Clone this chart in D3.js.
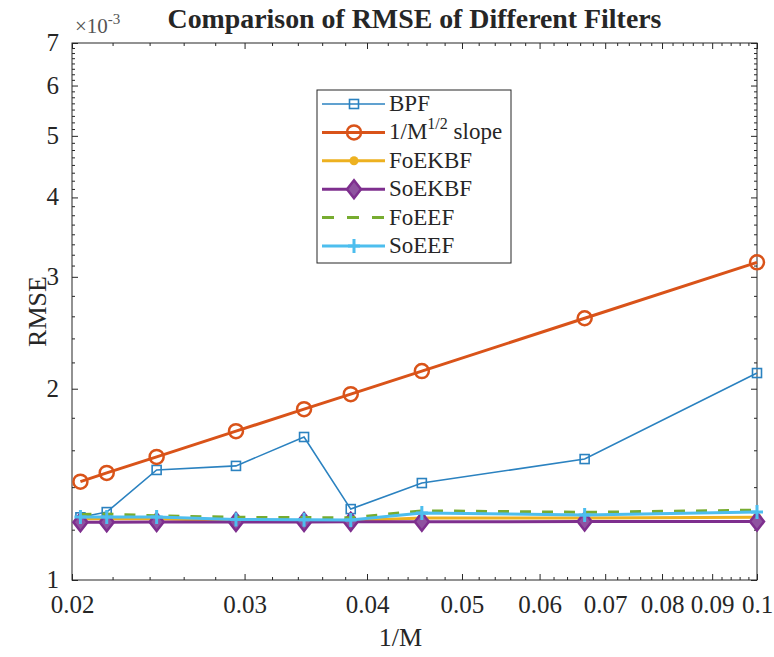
<!DOCTYPE html>
<html>
<head>
<meta charset="utf-8">
<script src="https://cdn.jsdelivr.net/npm/d3@7"></script>
<style>
  body { margin: 0; background: #fff; }
</style>
</head>
<body>
<svg id="chart"></svg>
<script>
// ---- data (RMSE in units of 1e-3) ----
const invM = [0.0204, 0.0217, 0.0244, 0.0294, 0.0345, 0.0385, 0.0455, 0.0667, 0.1];
const bpf    = [1.255, 1.279, 1.490, 1.512, 1.679, 1.293, 1.421, 1.550, 2.117];
const slope  = [1.428, 1.474, 1.562, 1.715, 1.857, 1.961, 2.132, 2.582, 3.162];
const foekbf = [1.248, 1.248, 1.248, 1.240, 1.240, 1.240, 1.252, 1.252, 1.255];
const soekbf = [1.233, 1.233, 1.234, 1.234, 1.234, 1.235, 1.235, 1.236, 1.236];
const foeef  = [1.268, 1.270, 1.262, 1.255, 1.254, 1.253, 1.285, 1.278, 1.288];
const soeef  = [1.256, 1.256, 1.256, 1.245, 1.244, 1.243, 1.275, 1.266, 1.279];

const xTicks = [0.02, 0.03, 0.04, 0.05, 0.06, 0.07, 0.08, 0.09, 0.1];
const yTicks = [1, 2, 3, 4, 5, 6, 7];

const W = 774, H = 657;
const pLeft = 72, pRight = 757, pTop = 43, pBottom = 580;
const FONT = "'Liberation Serif', 'Times New Roman', Times, 'DejaVu Serif', serif";
const INK = "#262626";

const svg = d3.select("#chart").attr("width", W).attr("height", H);

const x = d3.scaleLog().domain([0.02, 0.1]).range([pLeft, pRight]);
const y = d3.scaleLog().domain([1, 7]).range([pBottom, pTop]);

// minor ticks
let xMinor = [];
for (let v = 0.022; v < 0.1; v += 0.002) {
    if (Math.abs(v * 100 - Math.round(v * 100)) > 1e-6) xMinor.push(v);
}
let yMinor = [];
for (let v = 1.2; v < 3; v += 0.2) {
    if (Math.abs(v - Math.round(v)) > 1e-6) yMinor.push(v);
}
for (let v = 3.125; v < 7; v += 0.125) {
    if (Math.abs(v - Math.round(v)) > 1e-6) yMinor.push(v);
}

const fmtX = d => d3.format(".2~f")(d).replace(/^0\.10?$/, "0.1");

function addAxis(axis, tx, ty) {
    const g = svg.append("g")
        .attr("transform", `translate(${tx},${ty})`)
        .call(axis);
    g.select(".domain").remove();
    g.selectAll("line").attr("stroke", INK);
    g.attr("font-family", null);
    g.selectAll("text").style("font-family", FONT).style("font-size", "25px").style("fill", INK);
    return g;
}

// major + minor ticks on all four sides (inward)
const gx = addAxis(d3.axisBottom(x).tickValues(xTicks).tickFormat(fmtX).tickSize(-6).tickPadding(15), 0, pBottom);
gx.selectAll("text").attr("dy", "0.7em");
addAxis(d3.axisBottom(x).tickValues(xMinor).tickFormat("").tickSize(-3), 0, pBottom);
addAxis(d3.axisTop(x).tickValues(xTicks).tickFormat("").tickSize(-6), 0, pTop);
addAxis(d3.axisTop(x).tickValues(xMinor).tickFormat("").tickSize(-3), 0, pTop);

const gy = addAxis(d3.axisLeft(y).tickValues(yTicks).tickFormat(d3.format("d")).tickSize(-6).tickPadding(13), pLeft, 0);
gy.selectAll("text").attr("dy", "0.3em");
addAxis(d3.axisLeft(y).tickValues(yMinor).tickFormat("").tickSize(-3), pLeft, 0);
addAxis(d3.axisRight(y).tickValues(yTicks).tickFormat("").tickSize(-6), pRight, 0);
addAxis(d3.axisRight(y).tickValues(yMinor).tickFormat("").tickSize(-3), pRight, 0);

svg.append("rect")
    .attr("x", pLeft).attr("y", pTop)
    .attr("width", pRight - pLeft).attr("height", pBottom - pTop)
    .attr("fill", "none").attr("stroke", INK).attr("stroke-width", 1);

function txt(xp, yp, size) {
    return svg.append("text").attr("x", xp).attr("y", yp)
        .style("font-family", FONT).style("font-size", size + "px").style("fill", INK);
}

// exponent label
const expo = txt(75, 33, 21).style("fill", "#555");
expo.append("tspan").text("×10");
expo.append("tspan").attr("dy", -9).style("font-size", "15px").text("-3");

// title, stretched to the reference width
const title = txt((pLeft + pRight) / 2, 28, 26)
    .attr("text-anchor", "middle")
    .style("font-weight", "bold")
    .text("Comparison of RMSE of Different Filters");
const tw = title.node().getComputedTextLength();
title.style("font-size", (26 * 494 / tw) + "px");

txt((pLeft + pRight) / 2 - 14, 646, 26)
    .attr("text-anchor", "middle")
    .text("1/M");

txt(0, 0, 26)
    .attr("transform", `translate(46,${(pTop + pBottom) / 2}) rotate(-90)`)
    .attr("text-anchor", "middle")
    .text("RMSE");

// ---- series ----
const series = [
    { name: "BPF", values: bpf, color: "#2b82c0", width: 1.6, marker: "square" },
    { name: "slope", values: slope, color: "#D95319", width: 3, marker: "circle" },
    { name: "FoEKBF", values: foekbf, color: "#EDB120", width: 3, marker: "dot" },
    { name: "SoEKBF", values: soekbf, color: "#7E2F8E", width: 3, marker: "diamond" },
    { name: "FoEEF", values: foeef, color: "#77AC30", width: 3, marker: "none", dash: "11,11" },
    { name: "SoEEF", values: soeef, color: "#4DBEEE", width: 3, marker: "plus" }
];

function drawMarker(g, kind, cx, cy, color) {
    if (kind === "square") {
        g.append("rect").attr("x", cx - 4.5).attr("y", cy - 4.5).attr("width", 9).attr("height", 9)
            .attr("fill", "none").attr("stroke", color).attr("stroke-width", 1.6);
    } else if (kind === "circle") {
        g.append("circle").attr("cx", cx).attr("cy", cy).attr("r", 7)
            .attr("fill", "none").attr("stroke", color).attr("stroke-width", 2.5);
    } else if (kind === "dot") {
        g.append("circle").attr("cx", cx).attr("cy", cy).attr("r", 4.5).attr("fill", color);
    } else if (kind === "diamond") {
        g.append("path").attr("d", `M${cx},${cy - 9}L${cx + 7},${cy}L${cx},${cy + 9}L${cx - 7},${cy}Z`)
            .attr("fill", "#8f52a0").attr("stroke", color).attr("stroke-width", 2.5);
    } else if (kind === "plus") {
        g.append("path").attr("d", `M${cx - 6},${cy}H${cx + 6}M${cx},${cy - 7}V${cy + 7}`)
            .attr("stroke", color).attr("stroke-width", 3);
    }
}

const line = d3.line().x(d => x(d[0])).y(d => y(d[1]));

for (let s of series) {
    const pts = invM.map((v, i) => [v, s.values[i]]);
    const g = svg.append("g");
    g.append("path")
        .attr("d", line(pts))
        .attr("fill", "none")
        .attr("stroke", s.color)
        .attr("stroke-width", s.width)
        .attr("stroke-dasharray", s.dash || null);
    for (let p of pts) drawMarker(g, s.marker, x(p[0]), y(p[1]), s.color);
}

// ---- legend ----
const lg = svg.append("g");
lg.append("rect").attr("x", 317).attr("y", 90).attr("width", 194).attr("height", 173)
    .attr("fill", "#fff").attr("stroke", INK).attr("stroke-width", 1);

series.forEach((s, i) => {
    const ly = 104 + i * 28.4;
    lg.append("line").attr("x1", 322).attr("x2", 385).attr("y1", ly).attr("y2", ly)
        .attr("stroke", s.color).attr("stroke-width", s.width)
        .attr("stroke-dasharray", s.dash ? "12,13" : null);
    drawMarker(lg, s.marker, 354, ly, s.color);
    const t = lg.append("text").attr("x", 389).attr("y", ly + 7)
        .style("font-family", FONT).style("font-size", "23px").style("fill", INK);
    if (s.name === "slope") {
        t.append("tspan").text("1/M");
        t.append("tspan").attr("dy", -10).style("font-size", "16px").text("1/2");
        t.append("tspan").attr("dy", 10).text(" slope");
    } else {
        t.text(s.name);
    }
});
</script>
</body>
</html>
